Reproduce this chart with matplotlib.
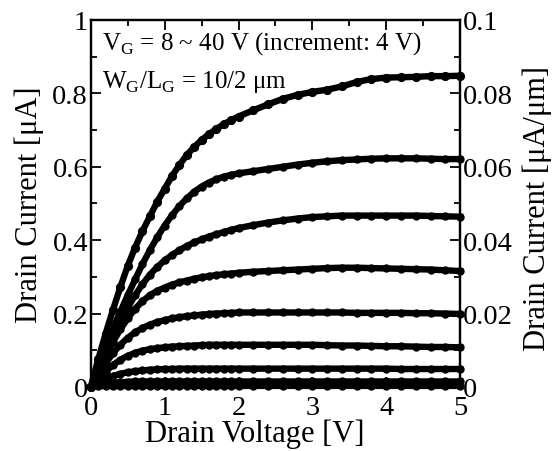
import matplotlib
matplotlib.use("Agg")
import matplotlib.pyplot as plt
from matplotlib.ticker import MultipleLocator

plt.rcParams['font.family'] = ['Liberation Serif', 'DejaVu Serif']
plt.rcParams['mathtext.fontset'] = 'custom'
plt.rcParams['mathtext.rm'] = 'Liberation Serif'

# drain voltage sweep [V]
vd = [0.0, 0.1, 0.2, 0.3, 0.4, 0.5, 0.6, 0.7, 0.8, 0.9,
      1.0, 1.1, 1.2, 1.3, 1.4, 1.5, 1.6, 1.7, 1.8, 1.9,
      2.0, 2.2, 2.4, 2.6, 2.8, 3.0, 3.2, 3.4, 3.6, 3.8,
      4.0, 4.2, 4.4, 4.6, 4.8, 5.0]

# drain current [uA] per gate voltage
id_40 = [0, 0.075, 0.145, 0.21, 0.272, 0.33, 0.38, 0.425, 0.465, 0.505,
         0.54, 0.575, 0.605, 0.632, 0.654, 0.673, 0.689, 0.703, 0.716, 0.727,
         0.737, 0.754, 0.77, 0.785, 0.796, 0.804, 0.81, 0.819, 0.831, 0.839,
         0.843, 0.844, 0.845, 0.847, 0.847, 0.848]
id_36 = [0, 0.055, 0.11, 0.16, 0.205, 0.25, 0.293, 0.335, 0.373, 0.408,
         0.44, 0.468, 0.493, 0.514, 0.532, 0.546, 0.557, 0.566, 0.573, 0.578,
         0.582, 0.588, 0.594, 0.6, 0.606, 0.611, 0.615, 0.618, 0.62, 0.622,
         0.623, 0.623, 0.623, 0.622, 0.621, 0.621]
id_32 = [0, 0.048, 0.095, 0.14, 0.18, 0.216, 0.25, 0.28, 0.306, 0.327,
         0.345, 0.36, 0.373, 0.384, 0.394, 0.402, 0.41, 0.416, 0.422, 0.428,
         0.433, 0.441, 0.448, 0.454, 0.459, 0.463, 0.465, 0.467, 0.467, 0.467,
         0.467, 0.467, 0.467, 0.466, 0.465, 0.464]
id_28 = [0, 0.043, 0.084, 0.122, 0.157, 0.187, 0.213, 0.234, 0.25, 0.262,
         0.271, 0.279, 0.285, 0.29, 0.295, 0.299, 0.302, 0.305, 0.307, 0.309,
         0.311, 0.314, 0.316, 0.318, 0.32, 0.322, 0.324, 0.325, 0.325, 0.324,
         0.323, 0.322, 0.321, 0.32, 0.318, 0.316]
id_24 = [0, 0.034, 0.064, 0.092, 0.115, 0.134, 0.149, 0.161, 0.17, 0.177,
         0.182, 0.187, 0.19, 0.193, 0.195, 0.197, 0.199, 0.2, 0.201, 0.202,
         0.203, 0.203, 0.203, 0.203, 0.203, 0.203, 0.203, 0.203, 0.202, 0.202,
         0.202, 0.202, 0.201, 0.201, 0.2, 0.199]
id_20 = [0, 0.022, 0.042, 0.06, 0.074, 0.085, 0.093, 0.099, 0.103, 0.106,
         0.108, 0.11, 0.111, 0.112, 0.113, 0.114, 0.115, 0.115, 0.115, 0.115,
         0.115, 0.115, 0.115, 0.115, 0.115, 0.115, 0.114, 0.113, 0.113, 0.112,
         0.111, 0.111, 0.11, 0.109, 0.109, 0.108]
id_16 = [0, 0.012, 0.022, 0.03, 0.036, 0.04, 0.043, 0.045, 0.047, 0.048,
         0.049, 0.049, 0.05, 0.05, 0.05, 0.05, 0.05, 0.05, 0.05, 0.05,
         0.05, 0.05, 0.05, 0.05, 0.05, 0.05, 0.05, 0.05, 0.05, 0.05,
         0.05, 0.049, 0.049, 0.049, 0.049, 0.049]
id_12 = [0, 0.005, 0.009, 0.011, 0.013, 0.014, 0.015, 0.015, 0.015, 0.015,
         0.015, 0.015, 0.015, 0.015, 0.015, 0.015, 0.015, 0.015, 0.015, 0.015,
         0.015, 0.015, 0.015, 0.015, 0.015, 0.015, 0.015, 0.015, 0.015, 0.015,
         0.015, 0.015, 0.015, 0.015, 0.015, 0.015]
id_8 = [0, 0.002, 0.003, 0.003, 0.003, 0.003, 0.003, 0.003, 0.003, 0.003,
        0.003, 0.003, 0.003, 0.003, 0.003, 0.003, 0.003, 0.003, 0.003, 0.003,
        0.003, 0.003, 0.003, 0.003, 0.003, 0.003, 0.003, 0.003, 0.003, 0.003,
        0.003, 0.003, 0.003, 0.003, 0.003, 0.003]

curves = [id_8, id_12, id_16, id_20, id_24, id_28, id_32, id_36, id_40]

fig = plt.figure(figsize=(5.57, 4.52), dpi=100)
ax1 = fig.add_axes([0.163, 0.1416, 0.663, 0.812])

for cur in curves:
    if cur is id_40:
        ax1.plot(vd, cur, '-o', color='black', lw=4.6, ms=5.6, clip_on=False)
    else:
        ax1.plot(vd, cur, '-o', color='black', lw=4.6, ms=5.0, clip_on=False)

ax1.set_xlim(0, 5)
ax1.set_ylim(0, 1)
ax1.xaxis.set_major_locator(MultipleLocator(1))
ax1.xaxis.set_minor_locator(MultipleLocator(0.5))
ax1.yaxis.set_minor_locator(MultipleLocator(0.1))
ax1.set_yticks([0, 0.2, 0.4, 0.6, 0.8, 1.0])
ax1.set_yticklabels(['0', '0.2', '0.4', '0.6', '0.8', '1'])
ax1.tick_params(which='both', direction='in', top=True, right=False, labelsize=20.5, width=1.3)
ax1.tick_params(axis='y', pad=2)
ax1.tick_params(axis='x', pad=6)
ax1.tick_params(which='major', length=7)
ax1.tick_params(which='minor', length=4.5)
ax1.set_xlabel('Drain Voltage [V]', fontsize=22)
ax1.xaxis.set_label_coords(0.445, -0.085)
ax1.set_ylabel('Drain Current [μA]', fontsize=22)
ax1.yaxis.set_label_coords(-0.127, 0.5)
for sp in ax1.spines.values():
    sp.set_linewidth(1.6)

ax2 = ax1.twinx()
ax2.set_ylim(0, 0.1)
ax2.set_yticks([0, 0.02, 0.04, 0.06, 0.08, 0.1])
ax2.set_yticklabels(['0', '0.02', '0.04', '0.06', '0.08', '0.1'])
ax2.yaxis.set_minor_locator(MultipleLocator(0.01))
ax2.tick_params(which='both', direction='in', labelsize=20.5, width=1.3, pad=2)
ax2.tick_params(which='major', length=7)
ax2.tick_params(which='minor', length=4.5)
ax2.set_ylabel('Drain Current [μA/μm]', fontsize=22, rotation=90)
ax2.yaxis.set_label_coords(1.17, 0.49)
for sp in ax2.spines.values():
    sp.set_linewidth(1.6)

ax1.text(0.03, 0.975, r'V$_\mathrm{G}$ = 8 ~ 40 V (increment: 4 V)', transform=ax1.transAxes,
         fontsize=18, va='top', ha='left')
ax1.text(0.03, 0.87, r'W$_\mathrm{G}$/L$_\mathrm{G}$ = 10/2 μm', transform=ax1.transAxes,
         fontsize=18, va='top', ha='left')

fig.savefig('out.png', dpi=100)
